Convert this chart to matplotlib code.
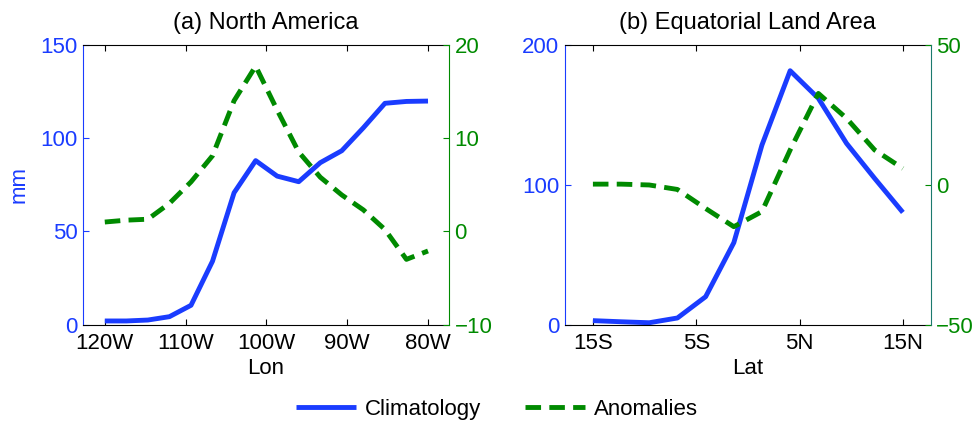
import matplotlib
matplotlib.use('Agg')
import matplotlib.pyplot as plt

plt.rcParams['font.family'] = ['Liberation Sans', 'DejaVu Sans']
plt.rcParams['font.size'] = 15
plt.rcParams['axes.unicode_minus'] = True

blue = '#1a3cff'
green = '#008a00'

# (a) North America
lon = [-120, -117.33, -114.67, -112, -109.33, -106.67, -104, -101.33,
       -98.67, -96, -93.33, -90.67, -88, -85.33, -82.67, -80]
clim_na = [2, 2, 2.5, 4.3, 10.4, 34, 70.7, 87.9,
           79.6, 76.6, 86.8, 93.2, 105.5, 118.6, 119.6, 119.8]
anom_na = [1.0, 1.2, 1.3, 3.0, 5.3, 8.1, 14.0, 17.7,
           13.0, 8.5, 5.8, 3.9, 2.3, 0.2, -3.0, -2.1]
lon_ticks = [-120, -110, -100, -90, -80]
lon_labels = ['120W', '110W', '100W', '90W', '80W']

# (b) Equatorial land area
lat = [-15, -12.27, -9.55, -6.82, -4.09, -1.36, 1.36, 4.09, 6.82, 9.55, 12.27, 15]
clim_eq = [2.9, 2.1, 1.4, 4.8, 20, 58.6, 128.3, 181.4, 161.7, 129.5, 104.5, 80.2]
anom_eq = [0.2, 0.2, -0.1, -1.7, -8.5, -15.0, -9.6, 12.4, 32.6, 23.7, 12.4, 5.8]
lat_ticks = [-15, -5, 5, 15]
lat_labels = ['15S', '5S', '5N', '15N']

fig = plt.figure(figsize=(9.74, 4.24), dpi=100)
ax1 = fig.add_axes([0.0852, 0.2342, 0.3758, 0.6604])
ax3 = fig.add_axes([0.5801, 0.2342, 0.3755, 0.6604])


def setup(ax, x, clim, anom, xticks, xlabels, xlim, ylim1, yt1, ylim2, yt2, title, xlabel, rcol):
    l1, = ax.plot(x, clim, color=blue, lw=3.5, solid_capstyle='butt', label='Climatology')
    ax.set_xlim(xlim)
    ax.set_ylim(ylim1)
    ax.set_yticks(yt1)
    ax.set_xticks(xticks)
    ax.set_xticklabels(xlabels)
    ax.tick_params(axis='x', direction='in', top=True, length=4, width=0.8, colors='black',
                   pad=6, labelsize=16)
    ax.tick_params(axis='y', direction='in', length=4, width=0.8, colors=blue, pad=4, labelsize=16)
    ax.spines['left'].set_color(blue)
    ax.spines['right'].set_visible(False)
    ax.set_title(title, fontsize=17, pad=11)
    ax.set_xlabel(xlabel, labelpad=3, fontsize=16)
    axr = ax.twinx()
    l2, = axr.plot(x, anom, color=green, lw=3.5, dashes=(3.2, 1.7), dash_capstyle='butt',
                   label='Anomalies')
    axr.set_ylim(ylim2)
    axr.set_yticks(yt2)
    axr.tick_params(axis='y', direction='in', length=4, width=0.8, colors=green, pad=4, labelsize=16)
    axr.spines['right'].set_color(rcol)
    axr.spines['left'].set_visible(False)
    axr.spines['top'].set_visible(False)
    axr.spines['bottom'].set_visible(False)
    return l1, l2


l1, l2 = setup(ax1, lon, clim_na, anom_na, lon_ticks, lon_labels, (-122.7, -77.4),
               (0, 150), [0, 50, 100, 150], (-10, 20), [-10, 0, 10, 20],
               '(a) North America', 'Lon', green)
ax1.set_ylabel('mm', color=blue, labelpad=8, fontsize=16)

setup(ax3, lat, clim_eq, anom_eq, lat_ticks, lat_labels, (-17.7, 17.7),
      (0, 200), [0, 100, 200], (-50, 50), [-50, 0, 50],
      '(b) Equatorial Land Area', 'Lat', '#1b7a6e')

fig.legend([l1, l2], ['Climatology', 'Anomalies'], loc='center', bbox_to_anchor=(0.51, 0.035),
           ncol=2, frameon=False, handlelength=2.7, handletextpad=0.4, columnspacing=2.0,
           fontsize=16)

fig.savefig('out.png', dpi=100)
